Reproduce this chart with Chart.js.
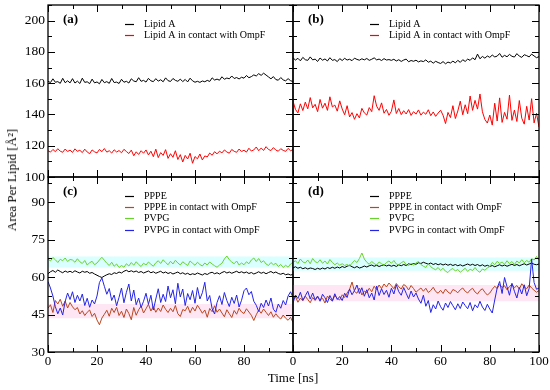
<!DOCTYPE html>
<html>
<head>
<meta charset="utf-8">
<script src="https://cdn.jsdelivr.net/npm/chart.js@4.4.1/dist/chart.umd.min.js"></script>
<style>
  body { margin: 0; background: #fff; }
  #wrap { position: relative; width: 550px; height: 390px; font-family: "Liberation Serif", "Times New Roman", serif; }
  canvas { position: absolute; left: 0; top: 0; }
  .ttl { position: absolute; font-size: 13px; color: #000; white-space: nowrap; transform: translate(-50%, -50%); }
  #ytitle { left: 12px; top: 180px; transform: translate(-50%, -50%) rotate(-90deg); }
  #xtitle { left: 293px; top: 378px; }
</style>
</head>
<body>
<div id="wrap">
  <canvas id="pa" width="550" height="390"></canvas>
  <canvas id="pb" width="550" height="390"></canvas>
  <canvas id="pc" width="550" height="390"></canvas>
  <canvas id="pd" width="550" height="390"></canvas>
  <div class="ttl" id="ytitle">Area Per Lipid [Å²]</div>
  <div class="ttl" id="xtitle">Time [ns]</div>
</div>
<script>
// sampling times, one value per ns
const timeNs = Array.from({ length: 101 }, (_, i) => i);

const xMajor = [0, 20, 40, 60, 80, 100];
const xMinor = [10, 30, 50, 70, 90];
const yMajorAB = [100, 120, 140, 160, 180, 200];
const yMinorAB = [110, 130, 150, 170, 190, 210];
const yMajorCD = [30, 45, 60, 75, 90];
const yMinorCD = [37.5, 52.5, 67.5, 82.5, 97.5];

// (a)
const aLipidA = [
  161.2,160.4,162.8,160.6,161.0,159.9,163.1,160.3,161.5,160.2,
  162.9,160.1,161.3,159.8,163.2,160.5,160.9,159.7,162.6,160.2,
  160.8,159.6,162.4,160.3,161.0,159.9,163.0,160.4,160.7,159.8,
  162.5,160.6,161.2,160.1,162.8,161.4,160.9,163.5,161.2,161.8,
  160.7,163.1,161.5,161.0,162.9,161.3,162.2,160.9,163.4,161.6,
  161.1,163.0,161.8,161.2,162.6,161.0,162.4,160.8,163.2,161.5,
  160.6,161.2,160.5,161.4,160.9,161.8,161.1,163.4,162.0,162.6,
  161.9,164.1,162.5,163.3,162.8,164.6,163.0,163.6,162.7,163.8,
  163.2,164.9,163.5,164.2,165.3,164.6,166.1,165.0,166.4,165.2,
  164.0,162.8,164.2,162.3,161.9,163.6,162.1,161.5,162.9,161.6,
  161.0];
const aLipidAOmpF = [
  116.8,115.9,117.6,116.2,118.1,116.5,115.8,117.9,116.3,117.2,
  115.7,118.0,116.4,117.1,115.6,117.8,116.0,114.9,117.3,116.1,
  115.4,117.6,116.2,118.2,115.9,116.8,115.3,117.4,116.0,116.9,
  115.5,117.7,116.3,115.0,117.2,113.6,116.1,114.4,116.8,115.2,
  117.3,114.1,116.5,113.0,117.8,112.4,115.6,113.8,117.5,111.9,
  114.9,112.6,116.8,111.2,114.3,109.6,113.8,111.5,115.2,108.8,
  113.1,111.6,114.7,110.9,113.5,112.8,115.3,113.9,116.2,114.8,
  116.5,115.4,117.3,116.0,115.2,117.6,116.4,115.8,117.9,116.3,
  117.1,115.9,118.4,116.6,117.3,119.2,116.8,118.5,117.0,119.4,
  117.6,116.9,118.8,117.2,116.5,118.1,117.0,116.4,118.3,116.8,
  117.5];

// (b)
const bLipidA = [
  176.2,174.8,175.9,174.3,176.5,175.0,174.6,176.8,174.9,175.4,
  173.9,176.1,174.7,175.5,174.2,176.3,174.6,175.1,173.8,175.7,
  174.5,175.9,174.8,175.3,174.4,176.0,175.2,174.7,175.6,174.9,
  175.8,174.6,175.3,176.2,174.9,175.4,174.5,175.7,174.8,175.1,
  174.6,175.3,174.2,175.0,173.9,174.8,175.4,173.7,174.5,174.0,
  174.7,173.6,174.3,173.8,174.9,173.4,174.1,172.8,174.0,173.2,
  172.6,173.8,172.4,173.5,172.9,174.1,173.0,174.6,173.3,175.0,
  173.9,175.4,174.6,176.2,175.0,178.6,175.6,177.1,176.0,177.4,
  176.5,178.0,176.8,177.3,179.0,176.6,177.8,176.9,178.4,177.2,
  176.7,178.9,177.3,176.5,178.2,177.6,176.8,178.6,177.4,176.3,
  177.0];
const bLipidAOmpF = [
  148.5,143.2,141.0,146.8,142.5,147.9,143.6,150.8,144.2,146.5,
  141.8,149.6,144.0,147.2,142.6,151.3,144.8,146.0,142.1,148.7,
  143.5,139.8,145.6,138.4,141.2,136.9,140.5,137.8,143.9,141.0,
  139.6,144.4,141.8,152.0,145.3,142.6,147.4,140.8,143.2,139.5,
  142.0,149.3,140.6,143.8,139.9,142.4,140.3,143.1,139.4,141.8,
  140.2,142.9,139.6,141.5,140.1,143.0,139.2,141.6,138.8,140.9,
  142.7,139.5,134.2,141.3,138.0,145.6,137.4,142.2,148.5,139.8,
  146.2,140.5,151.8,142.6,149.0,143.4,153.1,141.7,136.8,134.5,
  139.6,133.2,147.2,135.8,150.6,134.9,141.3,137.0,152.4,136.2,
  142.8,135.5,148.9,137.6,133.8,145.2,136.4,150.1,134.6,140.8,
  131.9];

// (c)
const cPPPE = [
  61.3,62.1,62.6,61.9,62.8,62.2,61.7,62.4,61.9,62.3,
  61.8,62.5,62.0,61.6,62.3,61.9,62.2,61.5,61.8,61.2,
  60.7,60.2,59.8,60.4,60.9,61.3,61.0,61.7,61.4,62.0,
  61.6,62.3,62.7,62.1,62.5,62.0,62.4,61.8,62.2,61.6,
  62.0,62.4,61.7,62.1,61.5,61.9,62.3,61.6,62.0,61.4,
  61.8,61.2,61.6,62.0,61.3,61.7,61.1,61.5,60.9,61.3,
  61.0,61.6,61.2,60.8,61.4,61.0,61.6,61.9,61.3,61.7,
  61.2,61.8,62.2,61.6,62.0,61.5,61.9,62.3,61.7,62.1,
  61.6,62.0,61.4,61.8,61.2,61.6,62.1,61.5,61.9,61.3,
  61.8,62.2,61.6,62.0,61.4,61.1,61.5,60.9,61.2,60.8,
  61.0];
const cPPPEOmpF = [
  47.5,48.9,45.8,50.6,49.2,51.1,48.3,50.4,47.6,49.8,
  48.1,46.9,47.8,45.2,46.5,44.6,45.9,46.8,44.2,45.5,
  42.8,40.9,43.6,45.1,46.7,44.3,47.5,45.8,47.9,44.6,
  46.3,43.8,47.2,45.4,42.9,47.8,44.7,46.9,48.4,45.6,
  47.3,49.1,46.4,48.2,45.9,47.6,46.2,48.8,47.1,45.8,
  47.5,46.1,48.6,45.3,44.2,47.0,46.5,48.3,45.7,47.9,
  46.4,48.7,47.2,45.5,46.8,43.9,47.4,46.1,48.5,45.9,
  47.2,45.6,44.1,46.9,45.3,43.8,46.6,45.1,47.5,46.0,
  45.4,47.3,46.0,44.7,42.6,44.9,46.8,45.5,47.2,45.9,
  44.6,46.1,43.9,45.3,44.0,43.2,44.8,43.5,42.7,43.9,
  41.8];
const cPVPG = [
  67.2,66.4,67.8,66.9,65.8,67.1,66.5,67.6,66.2,67.0,
  66.8,65.9,67.3,66.1,65.4,66.6,64.8,65.7,66.3,64.9,
  65.6,66.8,67.9,66.7,65.5,64.6,65.9,64.3,65.2,63.8,
  64.6,63.9,65.3,64.4,65.8,64.7,66.1,65.0,64.2,65.5,
  64.8,66.0,65.1,64.3,65.7,66.5,65.4,66.9,65.8,64.9,
  66.3,65.2,66.7,65.6,64.8,66.1,65.3,64.6,66.4,65.5,
  64.7,65.9,65.0,64.4,65.6,64.8,66.0,65.2,64.5,63.9,
  64.8,65.5,67.2,68.4,66.9,66.0,65.3,66.4,64.8,65.6,
  64.9,66.1,65.3,66.8,67.6,66.2,67.4,65.8,66.5,65.2,
  64.6,65.8,64.9,65.5,64.2,65.0,63.8,64.7,63.9,65.2,
  65.9];
const cPVPGOmpF = [
  58.2,55.6,52.4,48.1,45.3,47.6,44.8,50.2,53.6,51.0,
  54.1,49.8,52.7,50.4,53.2,48.6,51.5,47.9,50.8,49.2,
  52.4,57.8,59.6,56.3,53.1,55.4,50.6,52.8,48.5,51.9,
  55.6,49.7,53.9,57.2,50.4,54.8,48.9,51.6,47.8,50.3,
  53.5,49.1,52.7,46.8,51.2,55.3,49.8,53.1,50.2,56.4,
  51.7,54.9,49.3,57.5,52.0,55.2,48.6,53.4,50.9,54.6,
  49.5,55.8,51.2,53.7,57.9,50.4,52.6,47.3,45.2,49.8,
  52.5,49.0,53.8,50.6,48.2,51.9,49.4,52.8,48.0,50.7,
  54.5,55.6,52.9,54.2,50.3,48.7,46.2,49.5,47.8,50.8,
  48.4,51.6,47.1,45.9,49.2,47.5,50.6,48.8,52.4,54.1,
  51.8];

// (d)
const dPPPE = [
  63.6,64.1,63.5,63.9,63.3,63.7,63.2,63.6,63.4,63.0,
  63.5,63.1,63.6,63.2,63.8,63.4,63.9,63.5,64.0,63.6,
  64.2,63.8,64.3,64.7,64.1,63.7,64.2,63.6,63.9,64.4,
  64.0,64.5,64.8,64.3,64.7,64.2,64.6,64.9,64.4,64.8,
  64.3,64.7,64.2,64.9,64.5,65.0,64.6,65.3,64.9,65.4,
  65.1,65.7,65.4,65.9,65.5,65.2,65.6,65.0,65.4,64.9,
  65.3,64.8,65.2,64.7,65.1,64.6,65.0,64.5,64.9,64.4,
  64.8,65.2,64.7,65.1,64.6,65.0,64.4,64.9,64.3,64.7,
  64.2,64.6,64.1,64.5,64.9,64.4,64.8,64.3,64.7,65.1,
  64.6,65.0,64.5,64.9,65.3,64.8,65.2,65.6,65.1,64.9,
  65.2];
const dPPPEOmpF = [
  50.8,52.1,49.9,51.6,50.5,52.3,51.0,49.7,51.8,50.6,
  52.0,50.9,51.5,49.6,52.4,51.2,50.3,52.6,51.4,50.8,
  52.9,51.8,53.6,55.1,58.0,54.2,53.5,55.6,52.8,54.4,
  53.7,55.5,54.1,56.3,55.0,56.8,55.4,57.2,56.0,57.6,
  56.5,55.3,57.4,56.1,55.2,57.0,56.3,54.8,56.6,55.4,
  53.9,54.8,55.6,54.3,55.5,53.8,54.6,55.9,54.2,53.5,
  54.7,53.4,55.2,54.0,53.3,55.0,54.5,53.7,54.9,55.6,
  54.3,53.6,54.8,55.5,54.0,53.2,54.6,55.3,53.9,52.8,
  53.6,55.1,56.3,55.4,57.0,55.8,56.5,54.9,56.2,57.1,
  55.7,56.6,55.2,57.3,56.0,55.3,56.8,55.6,54.7,53.9,
  54.6];
const dPVPG = [
  65.8,66.5,65.4,67.2,66.0,65.6,66.8,65.3,67.4,66.1,
  65.7,66.9,65.5,66.4,65.2,67.0,65.8,64.9,65.6,64.7,
  65.3,64.6,65.0,64.4,65.5,66.6,65.8,67.4,69.6,67.2,
  65.9,65.1,66.2,65.4,64.8,66.0,65.3,64.7,65.8,66.4,
  65.5,66.6,65.2,64.9,65.7,66.3,65.0,64.6,65.4,64.8,
  65.6,66.2,65.0,64.3,63.8,65.5,64.1,63.4,62.9,63.8,
  62.6,63.5,62.3,61.8,62.9,63.4,62.4,63.0,61.9,62.7,
  63.5,62.2,63.1,62.6,63.8,62.5,61.9,63.2,62.7,63.6,
  64.2,65.8,64.9,66.3,65.4,66.0,65.1,66.5,65.3,66.2,
  65.0,66.4,65.6,66.9,65.7,66.6,65.9,67.3,66.8,68.2,
  66.7];
const dPVPGOmpF = [
  49.6,52.8,51.4,53.9,50.7,52.5,54.3,51.2,53.6,50.9,
  52.4,50.3,53.1,51.7,49.8,52.6,50.5,53.3,51.0,52.2,
  50.6,53.5,51.8,55.2,52.9,54.6,56.8,53.4,55.7,52.3,
  54.9,51.7,53.6,50.8,56.4,52.6,55.3,53.0,54.7,51.9,
  55.5,53.2,56.9,54.1,52.7,55.8,53.5,51.3,54.4,52.0,
  53.6,51.2,49.5,52.7,48.3,50.6,45.8,48.9,47.2,50.4,
  48.1,46.7,49.6,47.8,50.2,48.5,46.9,49.3,47.4,50.0,
  48.6,47.3,49.8,46.5,48.9,47.7,50.3,48.0,46.6,49.1,
  47.2,45.6,50.8,55.6,58.2,53.4,59.8,56.1,52.7,57.5,
  54.3,51.6,55.8,53.2,56.9,52.5,55.4,67.2,57.8,55.1,
  55.6];

// pale bands behind the curves in (c) and (d): [low, high]
const cBandPVPG = [63.8, 68.2];
const cBandPPPE = [43.5, 49.2];
const dBandPVPG = [62.5, 67.8];
const dBandPPPE = [50.3, 56.8];

const pts = vals => vals.map((v, i) => ({ x: timeNs[i], y: v }));
const flat = v => [{ x: 0, y: v }, { x: 100, y: v }];

function line(label, vals, color, order) {
  return { label, data: pts(vals), borderColor: color, backgroundColor: color, order };
}
function band(lohi, color) {
  return [
    { label: '', data: flat(lohi[0]), borderWidth: 0, borderColor: 'transparent', fill: false, order: 9 },
    { label: '', data: flat(lohi[1]), borderWidth: 0, borderColor: 'transparent', backgroundColor: color, fill: '-1', order: 9 }
  ];
}

Chart.defaults.font.family = '"Liberation Serif", "Times New Roman", serif';
Chart.defaults.color = '#000';

const framePlugin = {
  id: 'frame',
  afterDatasetsDraw(chart, args, opt) {
    const { ctx, chartArea: a } = chart;
    const x = chart.scales.x, y = chart.scales.y;
    ctx.save();
    ctx.strokeStyle = '#000';
    ctx.lineWidth = 1;
    ctx.beginPath();
    const vt = (v, len) => {
      const px = Math.round(x.getPixelForValue(v)) + 0.5;
      ctx.moveTo(px, a.bottom); ctx.lineTo(px, a.bottom - len);
      ctx.moveTo(px, a.top); ctx.lineTo(px, a.top + len);
    };
    const ht = (v, len) => {
      const py = Math.round(y.getPixelForValue(v)) + 0.5;
      ctx.moveTo(a.left, py); ctx.lineTo(a.left + len, py);
      ctx.moveTo(a.right, py); ctx.lineTo(a.right - len, py);
    };
    xMajor.forEach(v => vt(v, 7));
    xMinor.forEach(v => vt(v, 4));
    opt.yMajor.forEach(v => ht(v, 7));
    opt.yMinor.forEach(v => ht(v, 4));
    ctx.stroke();
    ctx.lineWidth = 1.3;
    ctx.strokeRect(a.left, a.top, a.right - a.left, a.bottom - a.top);

    ctx.fillStyle = '#000';
    ctx.textBaseline = 'middle';
    ctx.font = 'bold 13px "Liberation Serif"';
    ctx.fillText(opt.label, a.left + 15, a.top + 15);

    ctx.font = '10px "Liberation Serif"';
    let row = 0;
    chart.data.datasets.forEach(ds => {
      if (!ds.label) return;
      const ly = Math.round(a.top + 18.5 + row * 11.4) + 0.5;
      ctx.strokeStyle = ds.borderColor;
      ctx.lineWidth = 1.2;
      ctx.beginPath();
      ctx.moveTo(a.left + 77, ly);
      ctx.lineTo(a.left + 86, ly);
      ctx.stroke();
      ctx.fillText(ds.label, a.left + 96, ly);
      row++;
    });
    ctx.restore();
  }
};

function panel(id, datasets, o) {
  return new Chart(document.getElementById(id), {
    type: 'line',
    data: { datasets },
    options: {
      responsive: false,
      animation: false,
      events: [],
      layout: { padding: o.padding },
      elements: { point: { radius: 0 }, line: { borderWidth: 1, tension: 0 } },
      plugins: { legend: { display: false }, tooltip: { enabled: false }, frame: o.frame },
      scales: {
        x: {
          type: 'linear', min: 0, max: 100, display: o.showX,
          grid: { display: false, drawTicks: false }, border: { display: false },
          afterBuildTicks: s => { s.ticks = xMajor.map(v => ({ value: v })); },
          afterFit: s => { s.height = o.showX ? 24 : 0; s.paddingLeft = 0; s.paddingRight = 0; },
          ticks: {
            padding: 2, font: { size: 13 }, maxRotation: 0, autoSkip: false,
            callback: v => (o.hideX100 && v === 100) ? '' : v
          }
        },
        y: {
          min: o.yMin, max: o.yMax, display: o.showY,
          grid: { display: false, drawTicks: false }, border: { display: false },
          afterBuildTicks: s => { s.ticks = o.yLabels.map(v => ({ value: v })); },
          afterFit: s => { s.width = o.showY ? 40 : 0; s.paddingTop = 0; s.paddingBottom = 0; },
          ticks: { padding: 3, font: { size: 13.5 } }
        }
      }
    },
    plugins: [framePlugin]
  });
}

panel('pa', [
  line('Lipid A', aLipidA, '#000000', 2),
  line('Lipid A in contact with OmpF', aLipidAOmpF, '#ff0000', 1)
], {
  padding: { left: 8, top: 5, right: 257, bottom: 213 },
  showX: false, showY: true, yMin: 100, yMax: 210, yLabels: yMajorAB,
  frame: { label: '(a)', yMajor: yMajorAB, yMinor: yMinorAB }
});

panel('pb', [
  line('Lipid A', bLipidA, '#000000', 2),
  line('Lipid A in contact with OmpF', bLipidAOmpF, '#ff0000', 1)
], {
  padding: { left: 293, top: 5, right: 11, bottom: 213 },
  showX: false, showY: false, yMin: 100, yMax: 210, yLabels: yMajorAB,
  frame: { label: '(b)', yMajor: yMajorAB, yMinor: yMinorAB }
});

panel('pc', [
  line('PPPE', cPPPE, '#000000', 4),
  line('PPPE in contact with OmpF', cPPPEOmpF, '#b8461e', 3),
  line('PVPG', cPVPG, '#6ad22c', 2),
  line('PVPG in contact with OmpF', cPVPGOmpF, '#2424e8', 1),
  ...band(cBandPVPG, 'rgba(185,255,255,0.55)'),
  ...band(cBandPPPE, 'rgba(255,205,235,0.5)')
], {
  padding: { left: 8, top: 177, right: 257, bottom: 14 },
  showX: true, hideX100: true, showY: true, yMin: 30, yMax: 100, yLabels: yMajorCD,
  frame: { label: '(c)', yMajor: yMajorCD, yMinor: yMinorCD }
});

panel('pd', [
  line('PPPE', dPPPE, '#000000', 4),
  line('PPPE in contact with OmpF', dPPPEOmpF, '#b8461e', 3),
  line('PVPG', dPVPG, '#6ad22c', 2),
  line('PVPG in contact with OmpF', dPVPGOmpF, '#2424e8', 1),
  ...band(dBandPVPG, 'rgba(185,255,255,0.55)'),
  ...band(dBandPPPE, 'rgba(255,205,235,0.5)')
], {
  padding: { left: 293, top: 177, right: 11, bottom: 14 },
  showX: true, showY: false, yMin: 30, yMax: 100, yLabels: yMajorCD,
  frame: { label: '(d)', yMajor: yMajorCD, yMinor: yMinorCD }
});
</script>
</body>
</html>
